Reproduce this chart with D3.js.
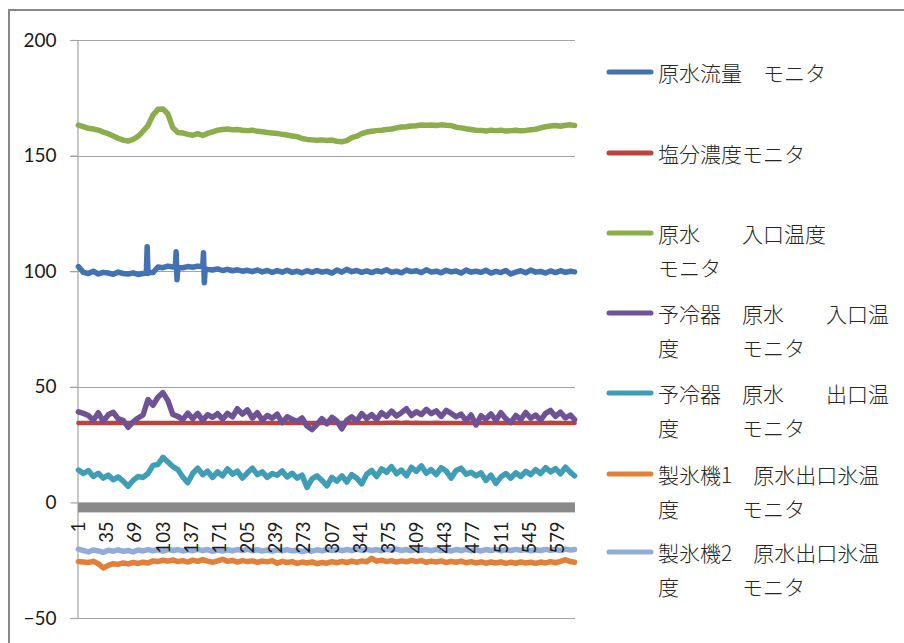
<!DOCTYPE html>
<html>
<head>
<meta charset="utf-8">
<script src="https://cdn.jsdelivr.net/npm/d3@7"></script>
<style>
  html, body { margin: 0; padding: 0; background: #fff; }
  svg { display: block; }
</style>
</head>
<body>
<svg id="chart" width="904" height="643"></svg>
<script>
// ---- data ----------------------------------------------------------------
// Record numbers 1..600 along the category axis
const categories = d3.range(1, 601);
const xTickLabels = [1, 35, 69, 103, 137, 171, 205, 239, 273, 307, 341, 375, 409, 443, 477, 511, 545, 579];
const yTickValues = [-50, 0, 50, 100, 150, 200];

// Records at which each monitor is plotted
const sampleAt = [...d3.range(1, 600, 6), 600];

const flowRate = [102, 99.5, 99, 100, 98.8, 99.5, 99.2, 98.7, 99.6, 99, 98.8, 99.3, 98.6, 99, 99, 99.4, 101.8, 101.5, 102.2, 101.8,
  101.5, 101.5, 102, 101.7, 102.2, 101.9, 100.8, 100.5, 101, 100.3, 100.8, 100.2, 100.6, 100, 100.4, 99.8, 100.5, 99.7, 100.3, 99.5,
  100.2, 99.6, 100.4, 99.5, 100, 99.3, 100.2, 99.5, 100.3, 99.6, 100, 99.2, 100.5, 99.6, 100.8, 99.8, 100.3, 99.5, 100.1, 99.4,
  100.2, 99.7, 100.6, 99.5, 100, 99.3, 100.5, 99.8, 100.2, 99.4, 100.6, 99.6, 100, 99.3, 100.4, 99.7, 100.1, 99.2, 100.5, 99.6,
  100, 99.5, 100.4, 99.2, 99.9, 99.4, 100.3, 98.8, 99.6, 100.2, 99.3, 100.5, 99.6, 99.9, 99.2, 100.1, 99.4, 100.2, 99.5, 100, 99.7];
// Short flow spikes between the regular records
const flowSpikeAt = [83, 84, 86, 118, 119, 120, 152, 153, 154];
const flowSpikeVal = [99.2, 110.6, 99.4, 101.8, 108.4, 96.3, 108, 95, 101];

const salinity = [34.3, 34.3, 34.3, 34.3, 34.3, 34.3, 34.3, 34.3, 34.3, 34.3, 34.3, 34.3, 34.3, 34.3, 34.3, 34.3, 34.3, 34.3, 34.3, 34.3,
  34.3, 34.3, 34.3, 34.3, 34.3, 34.3, 34.3, 34.3, 34.3, 34.3, 34.3, 34.3, 34.3, 34.3, 34.3, 34.3, 34.3, 34.3, 34.3, 34.3,
  34.3, 34.3, 34.3, 34.3, 34.3, 34.3, 34.3, 34.3, 34.3, 34.3, 34.3, 34.3, 34.3, 34.3, 34.3, 34.3, 34.3, 34.3, 34.3, 34.3,
  34.3, 34.3, 34.4, 34.5, 34.6, 34.4, 34.6, 34.3, 34.5, 34.3, 34.3, 34.3, 34.4, 34.3, 34.3, 34.3, 34.3, 34.3, 34.3, 34.3,
  34.3, 34.3, 34.3, 34.3, 34.3, 34.3, 34.3, 34.3, 34.3, 34.3, 34.3, 34.3, 34.3, 34.3, 34.3, 34.4, 34.3, 34.3, 34.3, 34.3, 34.3];

const inletTemp = [163.2, 162.5, 161.8, 161.5, 161, 160.2, 159.5, 158.5, 157.5, 156.7, 156.3, 157, 158.3, 160.5, 163, 167.5, 170, 170.2, 168, 162,
  160, 159.8, 159.2, 158.8, 159.5, 158.7, 159.6, 160.3, 161, 161.3, 161.5, 161.2, 161.3, 161, 160.8, 161, 160.5, 160.3, 160, 159.8,
  159.6, 159.2, 158.9, 158.5, 158.2, 157.4, 157, 156.8, 156.6, 156.8, 156.5, 156.7, 156.2, 156, 156.5, 157.8, 158.4, 159.5, 160.2, 160.5,
  160.8, 161, 161.3, 161.5, 162, 162.4, 162.5, 162.8, 162.9, 163.2, 163.1, 163.2, 163, 163.3, 163.1, 163, 162.3, 162, 161.6, 161.3,
  161, 160.9, 160.6, 161, 160.8, 161, 160.6, 160.8, 161, 160.7, 160.9, 161.2, 161.4, 162, 162.5, 162.8, 163, 162.7, 163.1, 163.3, 163];

const precoolInlet = [39.2, 38.5, 37.6, 35.5, 38.8, 35, 37.9, 39, 36.2, 35.5, 32.5, 34.8, 36.5, 37.8, 44.5, 42, 45.5, 47.5, 44, 38,
  37.2, 35.8, 38.6, 36.2, 38.5, 35.5, 37.9, 36.8, 38.4, 36, 38.5, 37, 40.5, 38.2, 40, 36.5, 38.8, 35.5, 37.6, 36.4,
  38.2, 34.5, 37, 36, 35, 36.5, 33, 31.5, 33.8, 36.2, 34, 36.8, 35.2, 31.8, 35.5, 37, 35.2, 38.4, 36.3, 38,
  35.8, 38.8, 37.2, 39.5, 37.4, 38.8, 40.5, 37.6, 39.2, 38, 40.2, 38.4, 39.6, 37.2, 39.8, 38.5, 37, 38.2, 35.4, 37.8,
  33.5, 37.5, 36, 38.3, 35.5, 38.8, 36.2, 34.5, 37.6, 35.8, 38.9, 36.4, 37.8, 35.6, 38.5, 39.8, 37.2, 39, 36.5, 37.8, 35.8];

const precoolOutlet = [14, 12.5, 13.8, 11.2, 12.6, 10.5, 11.8, 9.8, 11, 9.2, 7, 9.5, 11.2, 10.8, 12.5, 16, 16.4, 19.5, 17.5, 15.5,
  14.2, 11, 8.5, 12.5, 14.8, 12, 13.5, 10.8, 13.2, 11.5, 14.5, 12.2, 13.5, 10.5, 12.8, 14.8, 12, 13.2, 10.8, 12.5,
  11.8, 13.6, 11, 12.6, 10.5, 11.8, 6.5, 10.2, 11.5, 9.5, 7.2, 10.8, 9.2, 11.5, 8.8, 12, 10.5, 8, 12.2, 13.8,
  11.2, 14.5, 13, 15.5, 12.4, 14, 11.5, 15.2, 13.4, 15.8, 12.6, 14.2, 12, 15, 13.6, 10.5, 13.8, 14.8, 12.2, 13,
  11.5, 12.8, 9.5, 11.8, 8.2, 11, 12.5, 10.5, 12.8, 11.2, 13.4, 12, 14.2, 12.5, 15, 13.2, 14.6, 12.4, 15.2, 13, 11.5];

const iceMaker1 = [-25.6, -25.8, -26, -25.5, -26.5, -28.4, -27.2, -26.5, -26.8, -26.2, -26.6, -26, -26.4, -25.9, -26.2, -25.3, -25.6, -25, -25.4, -24.9,
  -25.6, -25.2, -25.8, -25, -25.5, -24.8, -25.4, -25.9, -25.3, -24.6, -25.5, -25.1, -25.8, -25.2, -25.6, -25.3, -25.9, -25.4, -25.7, -25.2,
  -26.3, -25.5, -26, -25.6, -26.4, -25.8, -26.2, -25.7, -26.5, -26, -26.3, -25.6, -26.1, -25.5, -26, -25.4, -25.9, -25.3, -25.7, -24.2,
  -25.4, -25, -25.6, -25.2, -25.8, -25.3, -25.7, -25.1, -25.6, -25.2, -25.9, -25.4, -25.8, -25.3, -26, -25.5, -25.9, -25.4, -26.1, -25.6,
  -26.2, -25.7, -26.3, -25.8, -26.2, -25.7, -26.4, -25.9, -26.3, -25.8, -26.2, -25.9, -26.4, -25.8, -26.2, -25.6, -26.1, -25.5, -24.8, -25.6, -25.9];

const iceMaker2 = [-20.2, -20.8, -21.4, -20.6, -21, -21.6, -20.7, -21.1, -20.5, -21.2, -20.8, -21.4, -20.6, -21, -20.4, -20.9, -20.5, -21.1, -20.3, -20.8,
  -20.4, -21, -20.5, -20.9, -20.3, -20.8, -20.4, -21.2, -20.6, -21, -20.5, -20.9, -20.4, -20.8, -20.3, -20.9, -20.5, -21, -20.6, -21.1,
  -20.5, -20.9, -20.4, -21, -20.6, -21.3, -20.7, -21.1, -20.5, -20.9, -20.4, -20.8, -20.3, -20.9, -20.4, -20.8, -20.2, -20.7, -20.3, -20.8,
  -20.4, -20.9, -20.3, -20.7, -20.2, -20.8, -20.4, -20.9, -20.3, -20.7, -20.4, -20.9, -20.3, -20.8, -20.5, -21, -20.4, -20.8, -20.3, -20.9,
  -20.5, -21, -20.4, -20.8, -20.3, -20.9, -20.5, -20.8, -20.3, -20.7, -20.4, -20.9, -20.5, -20.8, -20.3, -20.7, -20.4, -20.8, -20.2, -20.6, -20.4];

const seriesNames = [
  ["原水流量　モニタ"],
  ["塩分濃度モニタ"],
  ["原水　　入口温度", "モニタ"],
  ["予冷器　原水　　入口温", "度　　　モニタ"],
  ["予冷器　原水　　出口温", "度　　　モニタ"],
  ["製氷機1　原水出口氷温", "度　　　モニタ"],
  ["製氷機2　原水出口氷温", "度　　　モニタ"]
];
const seriesColors = ["#4272b2", "#b9443f", "#8cad4b", "#6f5296", "#3f9db6", "#e2803a", "#92acd7"];

// ---- build point lists ---------------------------------------------------
const pointsOf = vals => sampleAt.map((c, i) => ({ c, v: vals[i] }));
const flowPoints = pointsOf(flowRate)
  .concat(flowSpikeAt.map((c, i) => ({ c, v: flowSpikeVal[i] })))
  .sort((a, b) => a.c - b.c);

const series = [
  flowPoints,
  pointsOf(salinity),
  pointsOf(inletTemp),
  pointsOf(precoolInlet),
  pointsOf(precoolOutlet),
  pointsOf(iceMaker1),
  pointsOf(iceMaker2)
];

// ---- layout --------------------------------------------------------------
const svg = d3.select("#chart");
const plot = { left: 78, right: 575, top: 40, bottom: 618 };

const x = d3.scaleBand().domain(categories).range([plot.left, plot.right]).padding(0);
const y = d3.scaleLinear().domain([-50, 200]).range([plot.bottom, plot.top]);
const cx = c => x(c) + x.bandwidth() / 2;

// chart frame
svg.append("rect")
  .attr("x", 9).attr("y", 10)
  .attr("width", 920).attr("height", 660)
  .attr("fill", "none").attr("stroke", "#878787").attr("stroke-width", 2);

// horizontal gridlines
svg.append("g")
  .selectAll("line")
  .data(yTickValues.filter(v => v !== 0))
  .join("line")
  .attr("x1", 70).attr("x2", plot.right)
  .attr("y1", d => Math.round(y(d)) + 0.5).attr("y2", d => Math.round(y(d)) + 0.5)
  .attr("stroke", "#a3a3a3").attr("stroke-width", 1.2);

// value axis
const yAxis = svg.append("g")
  .attr("transform", `translate(${plot.left - 0.5},0)`)
  .call(d3.axisLeft(y).tickValues(yTickValues).tickSize(7).tickPadding(14).tickFormat(d3.format("d")));
yAxis.select(".domain").attr("stroke", "#a3a3a3").attr("stroke-width", 1.2);
yAxis.selectAll(".tick line").attr("stroke", "#a3a3a3").attr("stroke-width", 1.2);
yAxis.selectAll(".tick text")
  .attr("font-family", "Lato, 'Liberation Sans', sans-serif")
  .attr("font-size", 19).attr("fill", "#1a1a1a");

// category axis bar at zero
svg.append("rect")
  .attr("x", plot.left).attr("y", y(0))
  .attr("width", plot.right - plot.left).attr("height", 10)
  .attr("fill", "#8a8a8a");

// series lines
const line = d3.line().x(d => cx(d.c)).y(d => y(d.v));
svg.append("g")
  .selectAll("path")
  .data(series)
  .join("path")
  .attr("d", line)
  .attr("fill", "none")
  .attr("stroke", (d, i) => seriesColors[i])
  .attr("stroke-width", (d, i) => i === 1 ? 4.5 : 5.5)
  .attr("stroke-linejoin", "round")
  .attr("stroke-linecap", "round");

// rotated record labels, drawn above the lines
const xAxis = svg.append("g")
  .attr("transform", `translate(0,${y(0) + 10})`)
  .call(d3.axisBottom(x).tickValues(xTickLabels).tickSize(0));
xAxis.select(".domain").remove();
xAxis.selectAll(".tick text")
  .attr("transform", "translate(0,9) rotate(-90)")
  .attr("x", 0).attr("y", 0).attr("dy", "0.36em")
  .attr("text-anchor", "end")
  .attr("font-family", "Lato, 'Liberation Sans', sans-serif")
  .attr("font-size", 18.5).attr("fill", "#1a1a1a");

// legend
const legendRows = [72, 153, 233, 313, 393, 474, 552];
const legend = svg.append("g");
seriesNames.forEach((lines, i) => {
  const ry = legendRows[i];
  legend.append("line")
    .attr("x1", 609).attr("x2", 651)
    .attr("y1", ry).attr("y2", ry)
    .attr("stroke", seriesColors[i]).attr("stroke-width", 5)
    .attr("stroke-linecap", "round");
  lines.forEach((t, k) => {
    legend.append("text")
      .attr("x", 658).attr("y", ry + k * 34)
      .attr("dominant-baseline", "central")
      .attr("font-family", "'Noto Sans CJK JP', sans-serif")
      .attr("font-weight", 300)
      .attr("font-size", 21).attr("fill", "#262626")
      .text(t);
  });
});
</script>
</body>
</html>
